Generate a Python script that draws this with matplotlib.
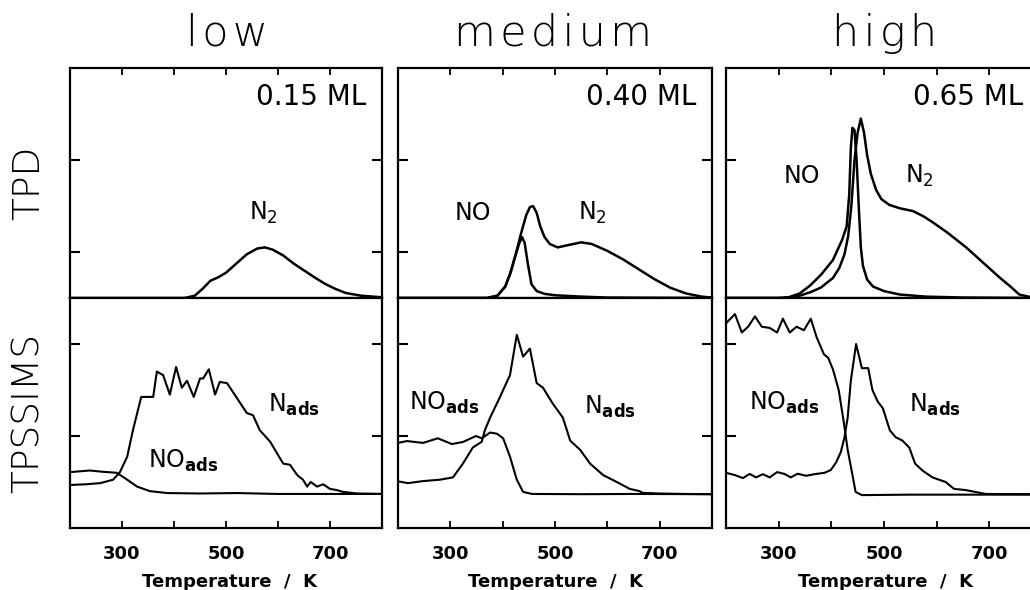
import matplotlib
matplotlib.use("Agg")
import matplotlib.pyplot as plt

# ---- data (temperature in K, signal in arbitrary units, 0..1 of panel) ----
columns = ["low", "medium", "high"]
coverages = ["0.15 ML", "0.40 ML", "0.65 ML"]
row_labels = ["TPD", "TPSSIMS"]
xticks = [300, 400, 500, 600, 700]
xticklabels = ["300", "", "500", "", "700"]

# TPD, low coverage
low_n2_T = [200, 420, 440, 455, 470, 485, 500, 520, 540, 560, 575, 590, 610, 630, 650, 670, 690, 710, 730, 760, 800]
low_n2 = [0, 0, 0.01, 0.04, 0.075, 0.09, 0.11, 0.15, 0.19, 0.215, 0.22, 0.21, 0.185, 0.15, 0.12, 0.09, 0.062, 0.04, 0.022, 0.01, 0.003]

# TPD, medium coverage
med_no_T = [200, 370, 390, 405, 415, 425, 432, 437, 442, 448, 455, 465, 480, 500, 550, 600, 800]
med_no = [0, 0, 0.01, 0.05, 0.11, 0.19, 0.24, 0.265, 0.24, 0.15, 0.06, 0.03, 0.018, 0.012, 0.006, 0.002, 0]
med_n2_T = [200, 370, 390, 405, 415, 425, 435, 445, 452, 458, 465, 472, 480, 490, 505, 525, 550, 570,
            600, 630, 660, 690, 720, 750, 780, 800]
med_n2 = [0, 0, 0.01, 0.05, 0.11, 0.19, 0.28, 0.36, 0.395, 0.40, 0.37, 0.31, 0.265, 0.235, 0.22, 0.23, 0.242, 0.235,
          0.205, 0.168, 0.125, 0.082, 0.045, 0.02, 0.006, 0.002]

# TPD, high coverage
high_no_T = [200, 300, 320, 340, 360, 380, 403, 420, 429, 434, 437, 440, 444, 448, 452, 456, 460, 468, 479, 500, 530, 580, 650, 800]
high_no = [0, 0, 0.004, 0.02, 0.055, 0.1, 0.165, 0.25, 0.31, 0.45, 0.65, 0.74, 0.73, 0.6, 0.4, 0.22, 0.14, 0.08, 0.05, 0.03, 0.015, 0.006, 0.002, 0]
high_n2_T = [200, 320, 340, 360, 380, 403, 415, 425, 432, 438, 444, 450, 456, 462, 468, 475, 485, 495, 510, 530,
             555, 575, 592, 620, 656, 690, 719, 740, 757, 780, 800]
high_n2 = [0, 0, 0.01, 0.025, 0.045, 0.087, 0.13, 0.19, 0.27, 0.4, 0.6, 0.72, 0.78, 0.72, 0.62, 0.54, 0.47, 0.43, 0.405, 0.39,
           0.378, 0.355, 0.33, 0.285, 0.22, 0.15, 0.09, 0.05, 0.015, 0.003, 0]

# TPSSIMS, low coverage
low_noads_T = [200, 238, 260, 290, 310, 329, 354, 387, 450, 520, 600, 700, 800]
low_noads = [0.243, 0.25, 0.245, 0.24, 0.21, 0.18, 0.16, 0.152, 0.15, 0.152, 0.148, 0.148, 0.148]
low_nads_T = [200, 230, 258, 283, 296, 310, 321, 337, 360, 367, 379, 392, 404, 415, 425, 438, 450, 456, 467, 479,
              488, 502, 521, 540, 552, 565, 585, 610, 623, 637, 648, 656, 663, 675, 687, 700, 713, 725, 752, 800]
low_nads = [0.187, 0.19, 0.195, 0.21, 0.243, 0.31, 0.425, 0.57, 0.57, 0.68, 0.665, 0.58, 0.70, 0.61, 0.64, 0.57, 0.65, 0.65, 0.69, 0.58,
            0.635, 0.63, 0.565, 0.50, 0.49, 0.425, 0.375, 0.28, 0.275, 0.23, 0.21, 0.18, 0.20, 0.18, 0.19, 0.17, 0.165, 0.157, 0.15, 0.148]

# TPSSIMS, medium coverage
med_noads_T = [200, 217, 248, 276, 303, 324, 349, 360, 376, 389, 401, 414, 427, 439, 456, 550, 650, 800]
med_noads = [0.37, 0.378, 0.37, 0.39, 0.365, 0.374, 0.40, 0.39, 0.415, 0.41, 0.39, 0.31, 0.21, 0.157, 0.148, 0.147, 0.148, 0.147]
med_nads_T = [200, 219, 248, 280, 305, 324, 343, 360, 366, 376, 395, 414, 427, 439, 452, 465, 477, 496, 515, 529,
              548, 567, 592, 618, 643, 662, 667, 699, 750, 800]
med_nads = [0.203, 0.195, 0.204, 0.21, 0.22, 0.28, 0.35, 0.375, 0.425, 0.48, 0.57, 0.665, 0.84, 0.745, 0.78, 0.63, 0.61, 0.54, 0.48, 0.38,
            0.34, 0.28, 0.23, 0.20, 0.17, 0.16, 0.153, 0.15, 0.148, 0.147]

# TPSSIMS, high coverage
high_noads_T = [200, 217, 230, 242, 255, 268, 283, 297, 308, 321, 334, 348, 361, 372, 386, 394, 403, 414, 424, 431,
                441, 446, 458, 550, 650, 800]
high_noads = [0.89, 0.93, 0.85, 0.875, 0.92, 0.875, 0.87, 0.85, 0.91, 0.85, 0.875, 0.86, 0.91, 0.83, 0.755, 0.74, 0.69, 0.60, 0.455, 0.34,
              0.22, 0.157, 0.143, 0.145, 0.145, 0.145]
high_nads_T = [200, 217, 232, 245, 257, 270, 283, 297, 311, 323, 336, 352, 368, 387, 399, 409, 418, 425, 431, 437,
               447, 458, 470, 478, 488, 498, 511, 522, 535, 548, 559, 573, 592, 617, 633, 655, 693, 800]
high_nads = [0.24, 0.23, 0.217, 0.235, 0.22, 0.234, 0.22, 0.243, 0.235, 0.22, 0.236, 0.227, 0.234, 0.24, 0.252, 0.285, 0.33, 0.395, 0.48, 0.64,
             0.80, 0.695, 0.695, 0.60, 0.55, 0.52, 0.425, 0.395, 0.38, 0.35, 0.28, 0.25, 0.22, 0.20, 0.17, 0.165, 0.148, 0.147]

tpd = [
    [(low_n2_T, low_n2)],
    [(med_no_T, med_no), (med_n2_T, med_n2)],
    [(high_no_T, high_no), (high_n2_T, high_n2)],
]
sims = [
    [(low_noads_T, low_noads), (low_nads_T, low_nads)],
    [(med_noads_T, med_noads), (med_nads_T, med_nads)],
    [(high_noads_T, high_noads), (high_nads_T, high_nads)],
]

# species labels: (text, T, value, ha)
tpd_labels = [
    [(r"N$_2$", 571, 0.37, "center")],
    [("NO", 343, 0.37, "center"), (r"N$_2$", 544, 0.37, "left")],
    [("NO", 344, 0.53, "center"), (r"N$_2$", 539, 0.53, "left")],
]
sims_labels = [
    [(r"NO$_{\mathbf{ads}}$", 350, 0.29, "left"), (r"N$_{\mathbf{ads}}$", 581, 0.535, "left")],
    [(r"NO$_{\mathbf{ads}}$", 221, 0.543, "left"), (r"N$_{\mathbf{ads}}$", 555, 0.526, "left")],
    [(r"NO$_{\mathbf{ads}}$", 244, 0.543, "left"), (r"N$_{\mathbf{ads}}$", 547, 0.535, "left")],
]

# ---- figure ----
W, H = 1030, 590
fig = plt.figure(figsize=(W / 100, H / 100), dpi=100)

col_px = [(70, 382), (398, 712), (726, 1042)]
row_px = [(68, 298), (298, 528)]
cov_right_px = [366, 696, 1023]


def make_ax(c, r):
    x0, x1 = col_px[c]
    y0, y1 = row_px[r]
    return fig.add_axes([x0 / W, 1 - y1 / H, (x1 - x0) / W, (y1 - y0) / H])


label_kw = dict(fontsize=17, family="DejaVu Sans")
hair = "\u200a"

for c in range(3):
    ax_t = make_ax(c, 0)
    ax_b = make_ax(c, 1)
    for ax, yt in ((ax_t, [0.2, 0.6]), (ax_b, [0.4, 0.8])):
        ax.set_xlim(200, 800)
        ax.set_ylim(0, 1)
        ax.set_yticks(yt)
        ax.set_yticklabels([])
        for s in ax.spines.values():
            s.set_linewidth(1.6)
        ax.tick_params(axis="y", direction="in", left=True, right=True, length=7, width=1.5)
    ax_t.set_xticks(xticks)
    ax_t.set_xticklabels([])
    ax_t.tick_params(axis="x", direction="in", top=True, bottom=False, length=5, width=1.3)
    ax_b.set_xticks(xticks)
    ax_b.set_xticklabels(xticklabels, fontsize=13, fontweight="bold")
    ax_b.tick_params(axis="x", direction="in", top=False, bottom=True, length=5, width=1.3, pad=12)

    for T, v in tpd[c]:
        ax_t.plot(T, v, color="black", lw=1.8)
    for T, v in sims[c]:
        ax_b.plot(T, v, color="black", lw=1.5)

    for txt, T, v, ha in tpd_labels[c]:
        ax_t.text(T, v, txt, ha=ha, va="center", **label_kw)
    for txt, T, v, ha in sims_labels[c]:
        ax_b.text(T, v, txt, ha=ha, va="center", **label_kw)

    fig.text(cov_right_px[c] / W, 1 - 97 / H, coverages[c], ha="right", va="center",
             fontsize=20, family="DejaVu Sans")

    cx = (col_px[c][0] + min(col_px[c][1], 1030 + 10)) / 2
    cx = [227, 553, 885][c]
    fig.text(cx / W, 1 - 46 / H, hair.join(columns[c]), ha="center", va="baseline",
             fontsize=31, fontweight="light", family="DejaVu Sans")
    fig.text([229, 556, 885][c] / W, 1 - 587 / H, "Temperature  /  K", ha="center", va="baseline",
             fontsize=13, fontweight="bold")

    if c == 0:
        ax_t.set_ylabel(row_labels[0], fontsize=27, fontweight="light", labelpad=14)
        ax_b.set_ylabel(row_labels[1], fontsize=27, fontweight="light", labelpad=14)

fig.savefig("out.png", dpi=100)
